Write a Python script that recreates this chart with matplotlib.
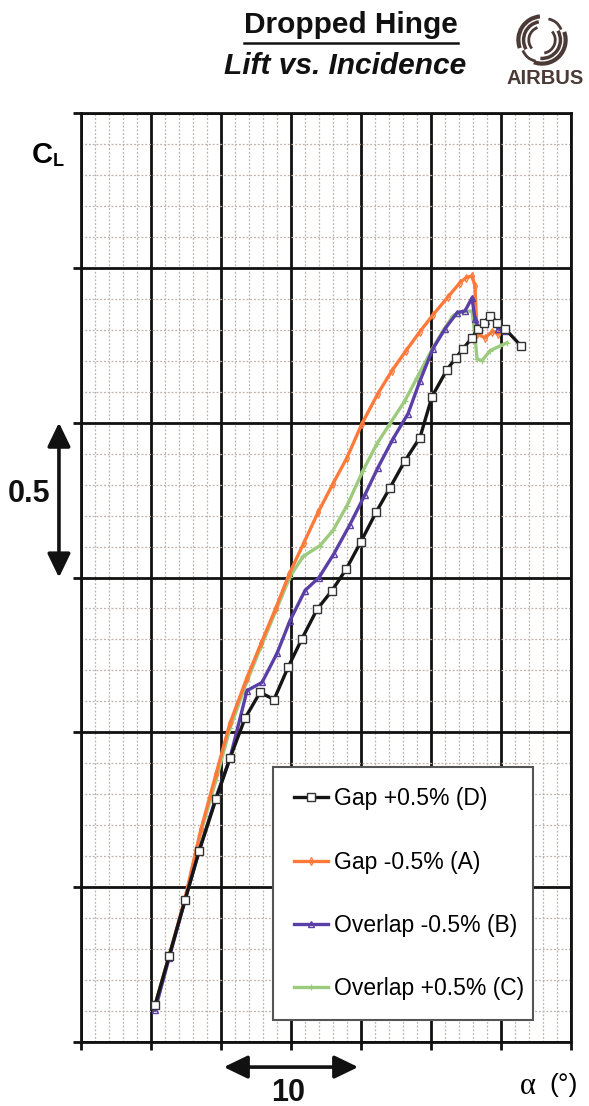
import matplotlib
matplotlib.use("Agg")
import matplotlib.pyplot as plt
from matplotlib.patches import Arc
from matplotlib.lines import Line2D
import numpy as np

plt.rcParams['font.family'] = ['Liberation Sans', 'DejaVu Sans']

# incidence (deg) and lift coefficient
alpha_D = [0.29, 1.29, 2.43, 3.43, 4.64, 5.64, 6.71, 7.79, 8.79, 9.79, 10.79, 11.86,
           12.93, 13.93, 15.0, 16.07, 17.07, 18.14, 19.21, 20.07, 21.14, 21.79, 22.29,
           22.93, 23.36, 23.79, 24.21, 24.71, 25.29, 26.43]
cl_D = [0.119, 0.277, 0.458, 0.616, 0.784, 0.916, 1.045, 1.129, 1.106, 1.210, 1.303, 1.397,
        1.458, 1.526, 1.616, 1.710, 1.790, 1.877, 1.952, 2.084, 2.171, 2.210, 2.239,
        2.274, 2.303, 2.323, 2.345, 2.323, 2.303, 2.248]

alpha_A = [0.29, 1.29, 2.43, 3.57, 4.64, 5.64, 6.86, 7.86, 8.93, 9.86, 10.93, 11.93,
           13.0, 14.0, 15.07, 16.21, 17.21, 18.21, 19.21, 20.14, 21.21, 22.07, 22.5,
           22.93, 23.14, 23.29, 23.86, 24.36, 24.79]
cl_A = [0.119, 0.277, 0.465, 0.687, 0.865, 1.029, 1.177, 1.287, 1.403, 1.510, 1.613, 1.710,
        1.803, 1.887, 1.997, 2.094, 2.168, 2.232, 2.294, 2.348, 2.406, 2.452, 2.468,
        2.474, 2.442, 2.287, 2.274, 2.294, 2.287]

alpha_B = [0.29, 1.29, 2.43, 3.43, 4.64, 5.64, 6.86, 7.93, 9.0, 9.93, 11.0, 12.0,
           13.07, 14.21, 15.29, 16.21, 17.29, 18.36, 19.21, 20.14, 21.0, 21.86, 22.43,
           22.93, 23.14, 23.43, 23.93, 24.36, 24.79, 25.29]
cl_B = [0.103, 0.271, 0.458, 0.616, 0.790, 0.916, 1.135, 1.161, 1.255, 1.361, 1.458, 1.500,
        1.577, 1.671, 1.768, 1.855, 1.948, 2.029, 2.135, 2.239, 2.303, 2.355, 2.361,
        2.403, 2.335, 2.303, 2.329, 2.345, 2.303, 2.297]

alpha_C = [0.29, 1.29, 2.43, 3.5, 4.64, 5.64, 6.86, 7.86, 8.93, 9.93, 10.86, 12.07,
           13.0, 14.0, 15.14, 16.14, 17.07, 18.14, 19.0, 20.14, 20.86, 21.57, 22.21,
           22.93, 23.14, 23.29, 23.64, 24.21, 24.93, 25.43]
cl_C = [0.119, 0.277, 0.458, 0.668, 0.845, 1.013, 1.165, 1.277, 1.394, 1.503, 1.568, 1.603,
        1.652, 1.732, 1.845, 1.932, 1.997, 2.071, 2.145, 2.242, 2.297, 2.345, 2.358,
        2.361, 2.281, 2.206, 2.200, 2.232, 2.248, 2.258]

labels = ["Gap +0.5% (D)", "Gap -0.5% (A)", "Overlap -0.5% (B)", "Overlap +0.5% (C)"]

W, H = 589, 1106
fig = plt.figure(figsize=(W / 100, H / 100), dpi=100)
ax = fig.add_axes([81 / W, 1 - 1042 / H, 490 / W, 929 / H])

ax.set_xlim(-5, 30)
ax.set_ylim(0, 3)
ax.set_xticks(np.arange(-5, 31, 5))
ax.set_xticks(np.arange(-5, 31, 1), minor=True)
ax.set_yticks(np.arange(0, 3.01, 0.5))
ax.set_yticks(np.arange(0, 3.01, 0.1), minor=True)
ax.grid(which='minor', color='#bdb3ad', lw=0.9, ls=(0, (1.5, 1.5)))
ax.grid(which='major', color='#111111', lw=2)
ax.set_axisbelow(True)
ax.tick_params(which='major', direction='out', length=6, width=2,
               labelbottom=False, labelleft=False, color='#111111')
ax.tick_params(which='minor', length=0)
for s in ax.spines.values():
    s.set_linewidth(2)
    s.set_color('#111111')

lC, = ax.plot(alpha_C, cl_C, color='#9dcb7e', lw=2.4, marker='+', ms=4.5, mew=0.9, zorder=3)
lA, = ax.plot(alpha_A, cl_A, color='#ff7a3a', lw=2.4, marker='d', ms=4, mfc='none', mew=0.9, zorder=4)
lB, = ax.plot(alpha_B, cl_B, color='#5a3fa6', lw=2.4, marker='^', ms=5, mfc='none', mew=1.0, zorder=5)
lD, = ax.plot(alpha_D, cl_D, color='#151515', lw=2.4, marker='s', ms=5.5, mfc='white', mec='#333333',
              mew=1.0, zorder=6)

leg = ax.legend([lD, lA, lB, lC], labels, loc='center', mode='expand',
                bbox_to_anchor=(0.392, 0.0215, 0.53, 0.2765), borderaxespad=0,
                fontsize=16.5, labelspacing=1.75, borderpad=0.9, handlelength=1.5,
                handletextpad=0.25, fancybox=False, framealpha=1)
leg.get_frame().set_edgecolor('#555555')
leg.get_frame().set_linewidth(1.5)

# scale arrows
arw = dict(arrowstyle='<|-|>,head_length=1.45,head_width=0.7', lw=2.6, color='#111111',
           shrinkA=0, shrinkB=0)
ax.annotate('', xy=(-0.045, 2.0), xytext=(-0.045, 1.5), xycoords=ax.get_yaxis_transform(),
            textcoords=ax.get_yaxis_transform(), arrowprops=arw, annotation_clip=False)
ax.annotate('', xy=(5.2, -0.027), xytext=(14.8, -0.027), xycoords=ax.get_xaxis_transform(),
            textcoords=ax.get_xaxis_transform(), arrowprops=arw, annotation_clip=False)
ax.text(-0.106, 1.77, '0.5', transform=ax.get_yaxis_transform(), ha='center', va='center',
        fontsize=22, weight='bold', color='#111111')
ax.text(9.8, -0.055, '10', transform=ax.get_xaxis_transform(), ha='center', va='center',
        fontsize=22, weight='bold', color='#111111')

# axis names
fig.text(42 / W, 1 - 155 / H, 'C', ha='center', va='center', fontsize=21, weight='bold')
fig.text(58 / W, 1 - 162 / H, 'L', ha='center', va='center', fontsize=13, weight='bold')
fig.text(528 / W, 1 - 1086 / H, 'α', ha='center', va='center', fontsize=22,
         family=['Liberation Serif', 'DejaVu Serif'])
fig.text(564 / W, 1 - 1085 / H, '(°)', ha='center', va='center', fontsize=19)

# titles
t1 = fig.text(351 / W, 1 - 25 / H, 'Dropped Hinge', ha='center', va='center', fontsize=21.5,
              weight='bold', color='#111111')
fig.text(345 / W, 1 - 66 / H, 'Lift vs. Incidence', ha='center', va='center', fontsize=21.5,
         weight='bold', style='italic', color='#111111')
fig.canvas.draw()
bb = t1.get_window_extent().transformed(fig.transFigure.inverted())
fig.add_artist(Line2D([bb.x0, bb.x1], [1 - 43 / H] * 2, color='#111111', lw=1.8))

# logo
brown = '#4b3a35'
fig.text(545 / W, 1 - 78 / H, 'AIRBUS', ha='center', va='center', fontsize=14.5,
         weight='bold', color=brown)
lax = fig.add_axes([516 / W, 1 - 66 / H, 52 / W, 52 / H])
lax.set_xlim(-1.1, 1.1)
lax.set_ylim(-1.1, 1.1)
lax.set_aspect('equal')
lax.axis('off')
for r, a0, a1, w in [(1.0, 95, 200, 3), (0.78, 100, 210, 2.5), (0.56, 110, 220, 2),
                     (1.0, 250, 20, 3), (0.78, 265, 30, 2.5), (0.56, 280, 40, 2)]:
    lax.add_patch(Arc((0, 0), 2 * r, 2 * r, theta1=a0, theta2=a1, color=brown, lw=w))
lax.add_patch(Arc((0.15, 0.2), 1.4, 1.4, theta1=20, theta2=80, color=brown, lw=2))
lax.add_patch(Arc((-0.15, -0.2), 1.4, 1.4, theta1=200, theta2=260, color=brown, lw=2))

fig.savefig('out.png', dpi=100)
